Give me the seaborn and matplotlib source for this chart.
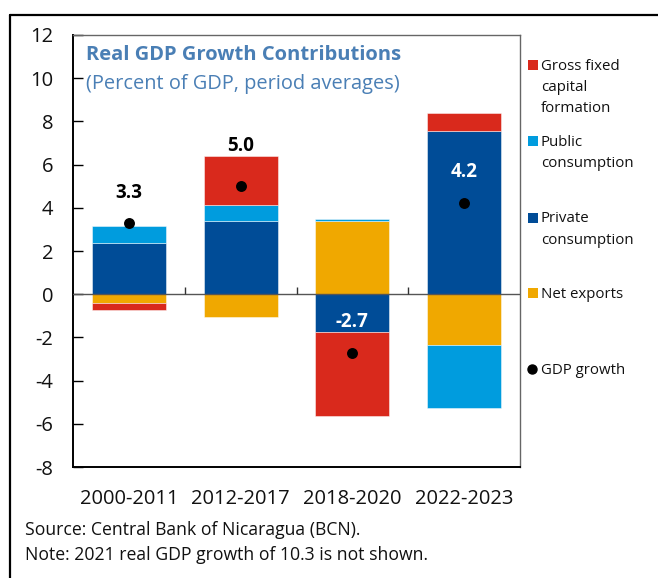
import numpy as np
import pandas as pd
import matplotlib
matplotlib.use("Agg")
import matplotlib.pyplot as plt
from matplotlib.patches import Rectangle
from matplotlib.lines import Line2D
import seaborn as sns

# Contributions to real GDP growth (percentage points, period averages)
periods = ["2000-2011", "2012-2017", "2018-2020", "2022-2023"]
net_exports = [-0.43, -1.05, 3.41, -2.33]
private_cons = [2.36, 3.38, -1.74, 7.55]
public_cons = [0.79, 0.76, 0.08, -2.96]
gfcf = [-0.29, 2.28, -3.89, 0.85]
gdp_growth = [3.3, 5.0, -2.7, 4.2]

series_names = ["Net exports", "Private\nconsumption", "Public\nconsumption",
                "Gross fixed\ncapital\nformation"]
series_values = [net_exports, private_cons, public_cons, gfcf]
series_colors = ["#F0A800", "#004C97", "#009CDE", "#D9291C"]

sns.set_theme(style="white")
font = "Open Sans"
plt.rcParams["font.family"] = [font, "DejaVu Sans"]

fig = plt.figure(figsize=(6.58, 5.78), dpi=100)
ax = fig.add_axes([73 / 658, 1 - 467 / 578, (520 - 73) / 658, (467 - 35) / 578])

# Stack positives upward and negatives downward from zero
pos_base = np.zeros(len(periods))
neg_base = np.zeros(len(periods))
for vals, color in zip(series_values, series_colors):
    v = np.asarray(vals, dtype=float)
    bottom = np.where(v >= 0, pos_base, neg_base)
    df = pd.DataFrame({"period": periods, "value": v})
    sns.barplot(data=df, x="period", y="value", order=periods, color=color,
                width=0.66, errorbar=None, bottom=bottom, ax=ax,
                edgecolor=(1, 1, 1, 0.55), linewidth=0.6, saturation=1)
    pos_base = pos_base + np.where(v >= 0, v, 0)
    neg_base = neg_base + np.where(v < 0, v, 0)

# GDP growth markers
gdf = pd.DataFrame({"period": periods, "gdp": gdp_growth})
sns.scatterplot(data=gdf, x="period", y="gdp", color="black", s=62,
                edgecolor="black", linewidth=0, zorder=5, ax=ax, legend=False)

label_colors = ["black", "black", "white", "white"]
label_offsets = [21.5, 29, 22, 22.5]
for i, (g, c, off) in enumerate(zip(gdp_growth, label_colors, label_offsets)):
    ax.annotate(f"{g:.1f}", (i, g), xytext=(0, off), textcoords="offset points",
                ha="center", va="center", fontsize=13.5, fontweight="bold",
                color=c, zorder=6)

ax.set_ylim(-8, 12)
ax.set_xlim(-0.5, len(periods) - 0.5)
ax.set_yticks(np.arange(-8, 13, 2))
ax.set_yticklabels([f"{t}" for t in range(-8, 13, 2)])
ax.set_xlabel("")
ax.set_ylabel("")

ax.axhline(0, color="#555555", lw=1.0, zorder=4)
# small separators between periods on the zero line
ax.vlines(np.arange(len(periods) - 1) + 0.5, 0, 0.32, color="#333333", lw=1.0, zorder=4)

ax.tick_params(axis="y", direction="in", length=7, width=1, color="black",
               labelsize=14.5, pad=14, left=True, labelcolor="#111111")
ax.tick_params(axis="x", length=0, labelsize=14.5, pad=16, labelcolor="#111111")

for side in ["left", "bottom"]:
    ax.spines[side].set_color("black")
    ax.spines[side].set_linewidth(1.4)
for side in ["top", "right"]:
    ax.spines[side].set_color("#666666")
    ax.spines[side].set_linewidth(1.0)

# Titles inside the plot area
title_color = "#4A7FB5"
ax.text(86 / 658, 1 - 55 / 578, "Real GDP Growth Contributions", transform=fig.transFigure,
        fontsize=14.5, fontweight="bold", color=title_color, va="center", ha="left")
ax.text(86 / 658, 1 - 84 / 578, "(Percent of GDP, period averages)", transform=fig.transFigure,
        fontsize=14.4, color=title_color, va="center", ha="left")

# Legend, drawn to the right of the plot
legend_order = [3, 2, 1, 0]
legend_y = [65, 141, 218, 293]
for idx, yc in zip(legend_order, legend_y):
    fig.add_artist(Rectangle((528 / 658, 1 - (yc + 5) / 578), 10 / 658, 10 / 578,
                             transform=fig.transFigure, facecolor=series_colors[idx],
                             edgecolor="none"))
    fig.text(541 / 658, 1 - (yc - 6.5) / 578, series_names[idx], fontsize=10.8,
             va="top", ha="left", color="#111111", linespacing=1.58)
fig.add_artist(Line2D([532 / 658], [1 - 369 / 578], marker="o", markersize=6.5,
                      color="black", linestyle="none", transform=fig.transFigure))
fig.text(541 / 658, 1 - 371 / 578, "GDP growth", fontsize=10.8, va="center",
         ha="left", color="#111111")

# Source and note
fig.text(25 / 658, 1 - 530 / 578, "Source: Central Bank of Nicaragua (BCN).",
         fontsize=12.7, va="center", ha="left", color="#111111")
fig.text(25 / 658, 1 - 555 / 578, "Note: 2021 real GDP growth of 10.3 is not shown.",
         fontsize=12.7, va="center", ha="left", color="#111111")

# Outer frame lines (top and left)
fig.add_artist(Line2D([10 / 658, 1], [1 - 15 / 578, 1 - 15 / 578], color="black",
                      lw=1.6, transform=fig.transFigure))
fig.add_artist(Line2D([10 / 658, 10 / 658], [0, 1 - 15 / 578], color="black",
                      lw=1.6, transform=fig.transFigure))

fig.savefig("out.png", dpi=100)
